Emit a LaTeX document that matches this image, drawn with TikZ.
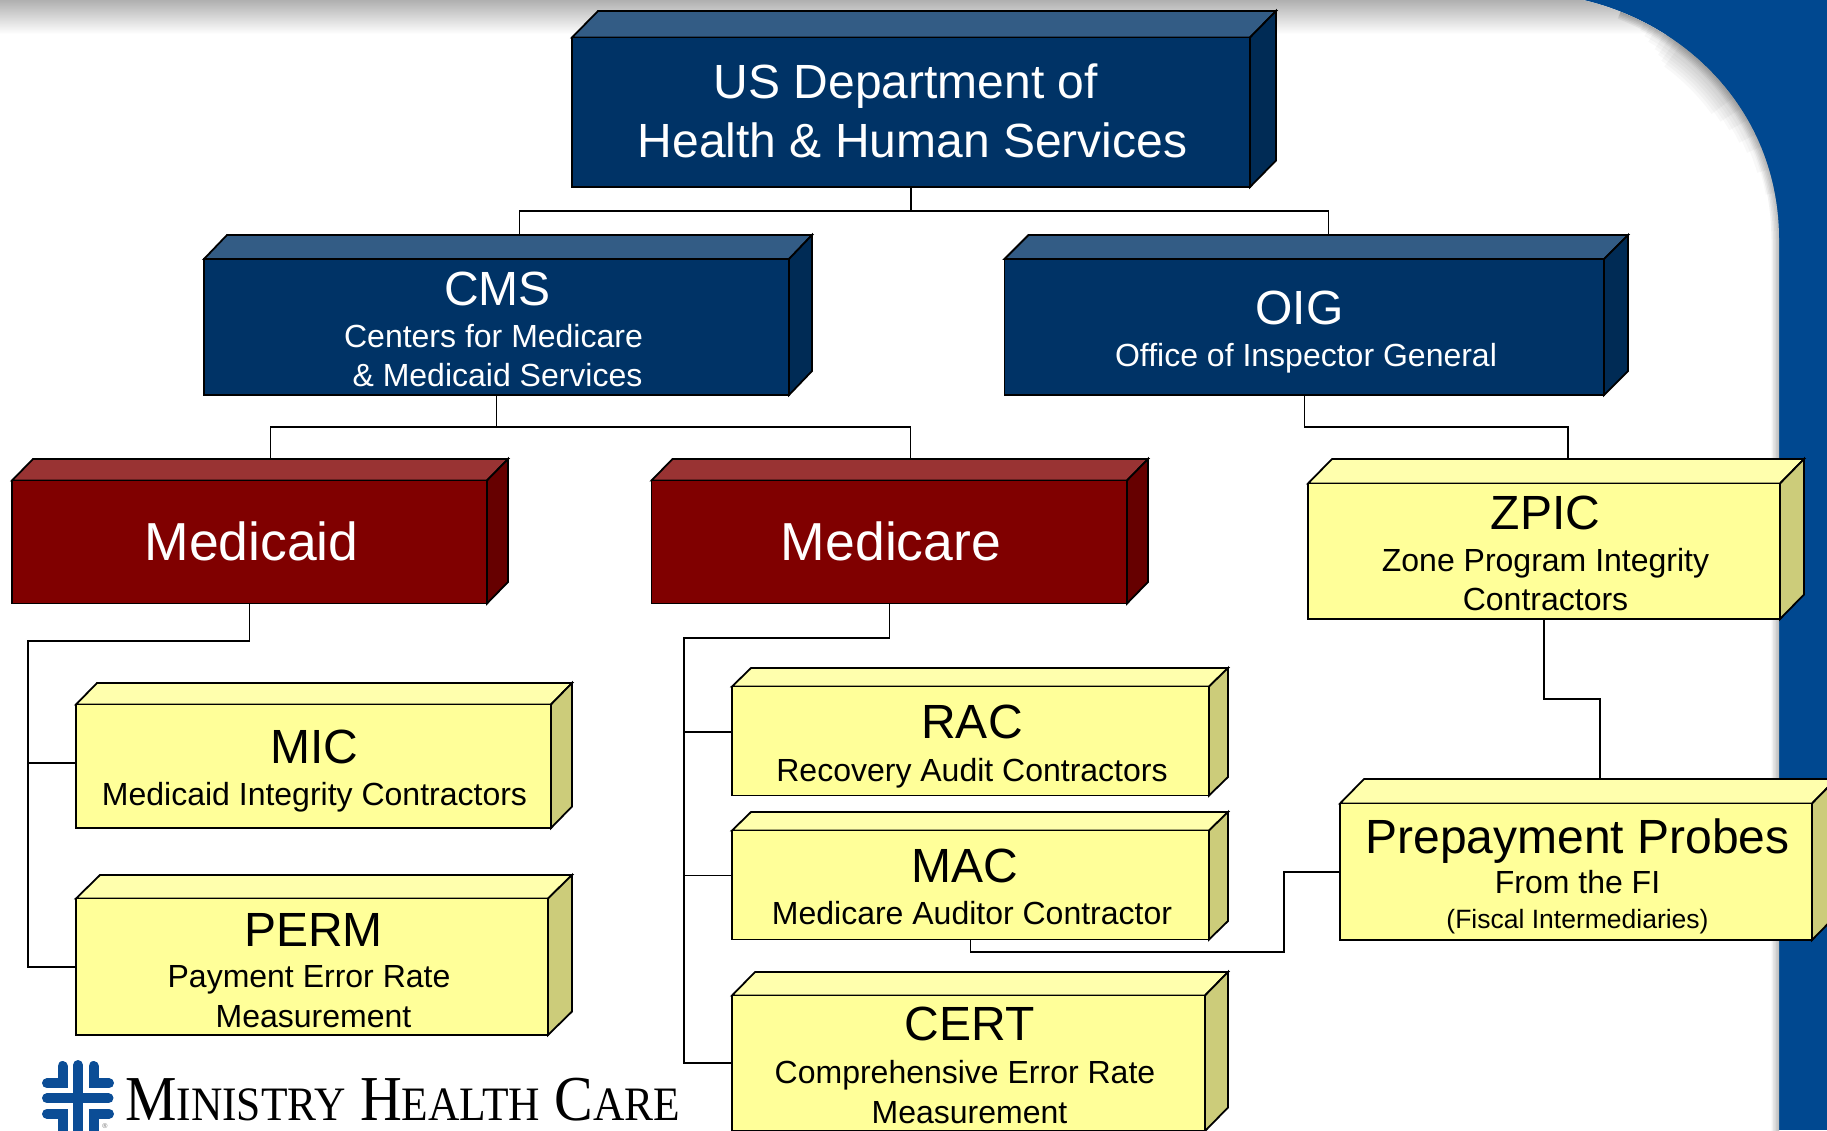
\documentclass[tikz,border=0pt]{standalone}
\usepackage{fontspec}
\setmainfont{Liberation Sans}
\newfontfamily\logofont[FakeStretch=0.905]{Liberation Serif}
\definecolor{bgblue}{HTML}{004890}
\definecolor{navyF}{HTML}{003366}
\definecolor{navyT}{HTML}{335C85}
\definecolor{navyS}{HTML}{002B55}
\definecolor{redF}{HTML}{800000}
\definecolor{redT}{HTML}{993333}
\definecolor{redS}{HTML}{660000}
\definecolor{yelF}{HTML}{FFFF99}
\definecolor{yelT}{HTML}{FFFFAD}
\definecolor{yelS}{HTML}{CCCC7A}
\definecolor{logoblue}{HTML}{0B4D96}
% one text line: size, distance from the line above, words
\newcommand{\txl}[3]{\rule{0pt}{#2pt}\smash{\fontsize{#1}{#2}\selectfont #3}}
% \cube{name}{palette}{left}{top}{right}{bottom}{backright}{backtop}
\newcommand{\cube}[8]{%
  \pgfmathsetmacro{\dX}{#7-#5}%
  \pgfmathsetmacro{\dY}{#4-#8}%
  \pgfmathsetmacro{\bL}{#3+\dX}%
  \pgfmathsetmacro{\bB}{#6-\dY}%
  \pgfmathsetmacro{\cX}{(#3+#5)/2}%
  \pgfmathsetmacro{\cY}{(#4+#6)/2}%
  \pgfmathsetmacro{\wX}{#5-#3}%
  \pgfmathsetmacro{\hY}{#6-#4}%
  \pgfmathsetmacro{\tX}{(\bL+#7)/2}%
  \draw[facet,fill=#2T] (#3,#4) -- (\bL,#8) -- (#7,#8) -- (#5,#4) -- cycle;
  \draw[facet,fill=#2S] (#5,#4) -- (#7,#8) -- (#7,\bB) -- (#5,#6) -- cycle;
  \node[frontface,fill=#2F,minimum width=\wX pt,minimum height=\hY pt] (#1) at (\cX,\cY) {};
  \coordinate (#1-top) at (\tX,#8);
}
\tikzset{
  facet/.style={draw=black,line width=1.8pt,line join=miter},
  frontface/.style={draw=black,line width=1.8pt,inner sep=0pt,outer sep=0pt},
  lighttext/.style={anchor=base,align=center,text=white,inner sep=0pt},
  darktext/.style={anchor=base,align=center,text=black,inner sep=0pt},
  link/.style={draw=black,line width=1.5pt,line join=miter},
  logobar/.style={draw=logoblue,line width=10pt,line cap=round,line join=miter},
  declare function={
    edgex(\t)=1583*(1-\t)^3+3*1690*\t*(1-\t)^2+3*1779*\t*\t*(1-\t)+1779*\t^3;
    edgey(\t)=3*25*\t*(1-\t)^2+3*115*\t*\t*(1-\t)+240*\t^3;
  },
}
\begin{document}
\begin{tikzpicture}[x=1pt,y=-1pt]
\lineskip=0pt \lineskiplimit=1000pt
\useasboundingbox (0,0) rectangle (1827,1130);
\clip (0,0) rectangle (1827,1130);
% slide background
\fill[bgblue] (0,0) rectangle (1827,1130);
\begin{scope}
  \path[clip] (-10,0) -- (1583,0) .. controls (1690,25) and (1779,115) .. (1779,240) -- (1779,1140) -- (-10,1140) -- cycle;
  \fill[white] (-10,0) rectangle (1790,1140);
  \shade[top color=black!32,bottom color=white] (-10,-1) rectangle (1800,34);
  \foreach \w/\a/\b in {18/.2/.87,24/.22/.8,30/.24/.73,36/.27/.69,42/.29/.64,48/.31/.6,54/.33/.56}
    \draw[black,opacity=.028,line width=\w pt,domain=\a:\b,samples=40,smooth]
      plot ({edgex(\x)},{edgey(\x)});
  \foreach \w in {3,6,9,12,15}
    \draw[black,opacity=.05,line width=\w pt,domain=.12:1,samples=50,smooth]
      plot ({edgex(\x)},{edgey(\x)}) -- (1779,1140);
\end{scope}

% boxes
\cube{hhs}{navy}{572}{37.5}{1250}{187}{1276}{11}
\cube{cms}{navy}{204}{259}{789}{395}{812}{235}
\cube{oig}{navy}{1004.5}{259}{1604}{395}{1628}{235}
\cube{medicaid}{red}{12}{480.5}{487}{603.5}{508}{459}
\cube{medicare}{red}{651.5}{480.5}{1127}{603.5}{1148}{459}
\cube{zpic}{yel}{1308}{483.5}{1780}{619}{1804}{459}
\cube{mic}{yel}{76}{704.5}{551}{828}{572}{683}
\cube{perm}{yel}{76}{898.5}{548}{1035}{572}{875}
\cube{rac}{yel}{732}{686.5}{1209}{795.5}{1228}{668}
\cube{mac}{yel}{732}{830.5}{1209}{939.5}{1228}{812}
\cube{cert}{yel}{732}{995.5}{1205}{1131}{1228}{972}
\cube{probes}{yel}{1340}{803.5}{1812}{940}{1836}{779}

% text
\node[lighttext] (hhs-text) at (912.5,157) {\txl{48}{50}{\hspace*{-13pt}US Department of}\\\txl{48}{58.5}{Health \& Human Services}};
\node[lighttext] (cms-text) at (497.5,386) {\txl{48}{50}{CMS}\\\txl{32}{42}{\hspace*{-8pt}Centers for Medicare}\\\txl{32}{39}{\& Medicaid Services}};
\node[lighttext] (oig-text) at (1306,366) {\txl{48}{50}{\hspace*{-13pt}OIG}\\\txl{32}{42}{Office of Inspector General}};
\node[lighttext] (medicaid-text) at (251.5,560.5) {\txl{53.5}{60}{Medicaid}};
\node[lighttext] (medicare-text) at (891,560.5) {\txl{53.5}{60}{Medicare}};
\node[darktext] (zpic-text) at (1545.5,610.5) {\txl{48}{50}{ZPIC}\\\txl{32}{42}{Zone Program Integrity}\\\txl{32}{39}{Contractors}};
\node[darktext] (mic-text) at (314.5,805.5) {\txl{48}{50}{MIC}\\\txl{32}{42}{Medicaid Integrity Contractors}};
\node[darktext] (perm-text) at (313.5,1027) {\txl{48}{50}{PERM}\\\txl{32}{41.5}{\hspace*{-9pt}Payment Error Rate}\\\txl{32}{39.5}{Measurement}};
\node[darktext] (rac-text) at (972,781) {\txl{48}{50}{RAC}\\\txl{32}{43}{Recovery Audit Contractors}};
\node[darktext] (mac-text) at (972,924.5) {\txl{48}{50}{\hspace*{-14pt}MAC}\\\txl{32}{42}{Medicare Auditor Contractor}};
\node[darktext] (cert-text) at (969.5,1123) {\txl{48}{50}{CERT}\\\txl{32}{43}{\hspace*{-9pt}Comprehensive Error Rate}\\\txl{32}{39.5}{Measurement}};
\node[darktext] (probes-text) at (1577.5,928) {\txl{48}{50}{Prepayment Probes}\\\txl{32}{40}{From the FI}\\\txl{26.5}{35}{(Fiscal Intermediaries)}};

% connector levels and entry points
\coordinate (busA) at (0,211);
\coordinate (busB) at (0,427);
\coordinate (busC) at (0,641);
\coordinate (busD) at (0,638);
\coordinate (busE) at (0,699);
\coordinate (busF) at (0,952);
\coordinate (railL) at (28,0);
\coordinate (railM) at (684,0);
\coordinate (railP) at (1284,0);
\coordinate (micin) at (76,763);
\coordinate (racin) at (732,732);
\coordinate (macin) at (732,875.5);
\coordinate (certin) at (732,1063);

\draw[link] (hhs.south) -- (hhs.south |- busA);
\draw[link] (cms-top) -- (cms-top |- busA) -- (oig-top |- busA) -- (oig-top);
\draw[link] (cms.south) -- (cms.south |- busB);
\draw[link] (medicaid-top) -- (medicaid-top |- busB) -- (medicare-top |- busB) -- (medicare-top);
\draw[link] (oig.south) -- (oig.south |- busB) -- (zpic-top |- busB) -- (zpic-top);
\draw[link] (medicaid.south) -- (medicaid.south |- busC) -- (railL |- busC) -- (railL |- perm.west) -- (perm.west);
\draw[link] (railL |- micin) -- (micin);
\draw[link] (medicare.south) -- (medicare.south |- busD) -- (railM |- busD) -- (railM |- certin) -- (certin);
\draw[link] (railM |- racin) -- (racin);
\draw[link] (railM |- macin) -- (macin);
\draw[link] (zpic.south) -- (zpic.south |- busE) -- (probes-top |- busE) -- (probes-top);
\draw[link] (mac.south) -- (mac.south |- busF) -- (railP |- busF) -- (railP |- probes.west) -- (probes.west);

% logo
\draw[logobar] (78,1065) -- (78,1140);
\draw[logobar] (47,1098.3) -- (108.5,1098.3);
\draw[logobar] (62.5,1066) -- (62.5,1083.3) -- (47,1083.3);
\draw[logobar] (93.5,1066) -- (93.5,1083.3) -- (109,1083.3);
\draw[logobar] (47,1113.8) -- (62.5,1113.8) -- (62.5,1140);
\draw[logobar] (109,1113.8) -- (93.5,1113.8) -- (93.5,1140);
\node[text=black!55,inner sep=0pt,font=\fontsize{7}{8}\selectfont] (regmark) at (105,1126) {®};
\node[anchor=base west,inner sep=0pt,text=black] (logotext) at (125,1120) {\logofont\fontsize{64}{64}\selectfont M\fontsize{48}{64}\selectfont INISTRY\fontsize{64}{64}\selectfont\ H\fontsize{48}{64}\selectfont EALTH\fontsize{64}{64}\selectfont\ C\fontsize{48}{64}\selectfont ARE};
\end{tikzpicture}
\end{document}
